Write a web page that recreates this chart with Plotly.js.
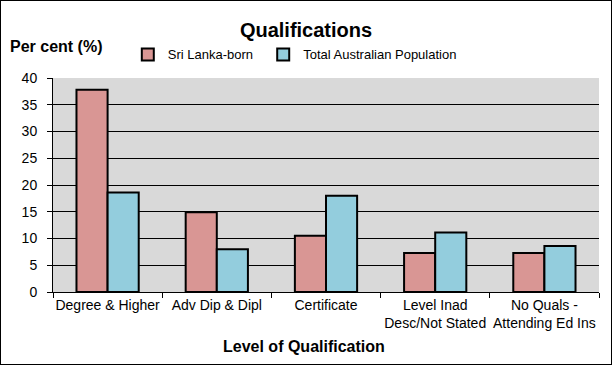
<!DOCTYPE html>
<html><head><meta charset="utf-8">
<script src="https://cdn.plot.ly/plotly-3.0.1.min.js"></script>
<style>
html,body{margin:0;padding:0;background:#fff;}
#wrap{position:relative;width:612px;height:365px;}
#chart{width:612px;height:365px;}
#frame{position:absolute;left:0;top:0;width:612px;height:365px;box-sizing:border-box;border:1px solid #000;pointer-events:none;}
</style></head>
<body>
<div id="wrap"><div id="chart"></div><div id="frame"></div></div>
<script>
const categories = ["Degree & Higher", "Adv Dip & Dipl", "Certificate", "Level Inad<br>Desc/Not Stated", "No Quals -<br>Attending Ed Ins"];
const sriLanka = [37.8, 14.9, 10.5, 7.3, 7.3];
const totalAus = [18.6, 8.0, 18.0, 11.1, 8.6];
const seriesNames = ["Sri Lanka-born", "Total Australian Population"];
const yTicks = [0, 5, 10, 15, 20, 25, 30, 35, 40];

const font = "Arial, 'Liberation Sans', sans-serif";
const traces = [
  {type:"bar", name:seriesNames[0], x:categories, y:sriLanka, legend:"legend",
   marker:{color:"#d99694", line:{color:"#000", width:2}}},
  {type:"bar", name:seriesNames[1], x:categories, y:totalAus, legend:"legend2",
   marker:{color:"#93cddd", line:{color:"#000", width:2}}}
];
const legendBase = {orientation:"h", xanchor:"left", y:1.11, yanchor:"middle",
  font:{family:font, size:13, color:"#000"}, bgcolor:"rgba(0,0,0,0)"};
const layout = {
  width:612, height:365,
  margin:{l:53, r:13, t:78, b:73},
  paper_bgcolor:"#fff", plot_bgcolor:"#d9d9d9",
  font:{family:font, size:14, color:"#000"},
  barmode:"group", bargap:0.43, bargroupgap:0,
  title:{text:"<b>Qualifications</b>", font:{family:font, size:20, color:"#000"}, x:0.5, xanchor:"center", y:0.918, yanchor:"middle"},
  showlegend:true,
  legend:Object.assign({}, legendBase, {x:0.137}),
  legend2:Object.assign({}, legendBase, {x:0.385}),
  xaxis:{type:"category", tickson:"boundaries", ticks:"outside", ticklen:5, tickcolor:"#000",
         showline:true, linecolor:"#000", linewidth:1, showgrid:false, tickangle:0,
         tickfont:{family:font, size:14, color:"#000"}},
  yaxis:{range:[0,40], tickvals:yTicks, ticks:"outside", ticklen:5, tickcolor:"#000",
         showline:true, linecolor:"#000", linewidth:1, showgrid:true, gridcolor:"#000", gridwidth:1,
         zeroline:false, ticklabelstandoff:7, tickfont:{family:font, size:14, color:"#000"}, fixedrange:true},
  annotations:[
    {text:"<b>Per cent (%)</b>", xref:"paper", yref:"paper", x:-0.082, y:1.148,
     xanchor:"left", yanchor:"middle", showarrow:false, font:{family:font, size:16, color:"#000"}},
    {text:"<b>Level of Qualification</b>", xref:"paper", yref:"paper", x:0.46, y:-0.257,
     xanchor:"center", yanchor:"middle", showarrow:false, font:{family:font, size:16, color:"#000"}}
  ]
};
Plotly.newPlot("chart", traces, layout, {staticPlot:true, displayModeBar:false});
</script>
</body></html>
